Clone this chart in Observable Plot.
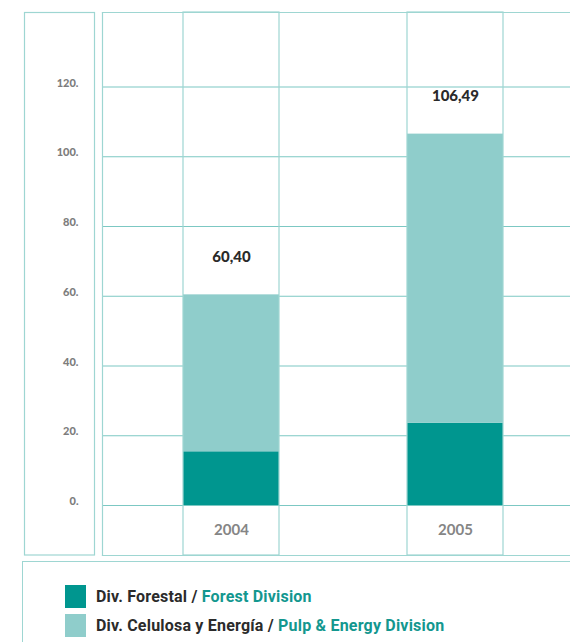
<!DOCTYPE html>
<html>
<head>
<meta charset="utf-8">
<script src="https://cdn.jsdelivr.net/npm/d3@7"></script>
<script src="https://cdn.jsdelivr.net/npm/@observablehq/plot@0.6"></script>
<style>
  body { margin: 0; background: #fff; font-family: Roboto, "Noto Sans", sans-serif; }
  #chart svg { display: block; }
  .legend {
    margin: 4px 0 0 22px;
    height: 90px;
    border: 1px solid #9ed6d2;
    border-right: none;
    border-bottom: none;
    padding: 20px 0 0 42px;
    box-sizing: border-box;
  }
  .legend .item { display: flex; align-items: center; height: 29px; font-size: 16px; font-weight: 700; color: #2b2b2b; letter-spacing: 0.2px; }
  .legend .sw { width: 21px; height: 23px; margin-right: 10px; }
  .legend .en { color: #13978f; }
</style>
</head>
<body>
<div id="chart"></div>
<div class="legend" id="legend"></div>
<script>
// Sales by division, millions
const years = ["2004", "2005"];
const forest = [15.4, 23.6];
const pulp = [45.0, 82.89];
const divisions = ["Div. Forestal", "Div. Celulosa y Energía"];
const divisionsEn = ["Forest Division", "Pulp & Energy Division"];
const colors = ["#00968f", "#8fcdcb"];
const yTicks = [0, 20, 40, 60, 80, 100, 120];

const rows = years.flatMap((year, i) => [
  {year, division: divisions[0], value: forest[i]},
  {year, division: divisions[1], value: pulp[i]}
]);
const totals = years.map((year, i) => ({year, total: forest[i] + pulp[i]}));

const line = "#7cc8c3";
const fmt = v => v.toFixed(2).replace(".", ",");

const chart = Plot.plot({
  width: 570,
  height: 557,
  marginLeft: 102,
  marginRight: 0,
  marginTop: 12,
  marginBottom: 2,
  style: {fontFamily: "Lato, 'Open Sans', sans-serif", background: "#fff"},
  x: {domain: years, range: [102, 584], paddingInner: 0.573, paddingOuter: 0.36, axis: null},
  y: {domain: [0, 120], range: [505, 86.5], axis: null},
  color: {domain: divisions, range: colors},
  marks: [
    Plot.gridY(yTicks, {stroke: line, strokeOpacity: 1, strokeWidth: 1.2}),
    Plot.barY(rows, {x: "year", y: "value", fill: "division", order: divisions}),
    Plot.cell(years, {x: d => d, fill: "none", stroke: "#9ed6d2", strokeWidth: 1.2}),
    Plot.frame({anchor: "top", stroke: "#9ed6d2", strokeWidth: 1.2}),
    Plot.frame({anchor: "left", stroke: "#9ed6d2", strokeWidth: 1.2}),
    Plot.frame({anchor: "bottom", stroke: "#9ed6d2", strokeWidth: 1.2}),
    Plot.axisY(yTicks, {
      tickSize: 0, tickPadding: 24, tickFormat: d => d + ".",
      fill: "#7d7d7d", fontWeight: 900, fontSize: 11, dy: -4,
      style: {letterSpacing: "1.5px"}
    }),
    Plot.text(totals, {
      x: "year", y: "total", text: d => fmt(d.total), dy: -38,
      fill: "#2a2a2a", fontWeight: 900, fontSize: 15,
      style: {fontVariantNumeric: "oldstyle-nums"}
    }),
    Plot.text(years, {
      x: d => d, frameAnchor: "bottom", dy: -21, text: d => d,
      fill: "#858585", fontWeight: 700, fontSize: 15,
      style: {fontVariantNumeric: "oldstyle-nums"}
    })
  ]
});

// Box framing the value scale on the left
d3.select(chart).append("rect")
  .attr("x", 24.5).attr("y", 12.5).attr("width", 70).attr("height", 542.5)
  .attr("fill", "none").attr("stroke", "#9ed6d2").attr("stroke-width", 1.2);

document.getElementById("chart").append(chart);

const legend = d3.select("#legend");
divisions.forEach((d, i) => {
  const item = legend.append("div").attr("class", "item");
  item.append("div").attr("class", "sw").style("background", colors[i]);
  item.append("span").text(d + " / ");
  item.append("span").attr("class", "en").html("&nbsp;" + divisionsEn[i]);
});
</script>
</body>
</html>
